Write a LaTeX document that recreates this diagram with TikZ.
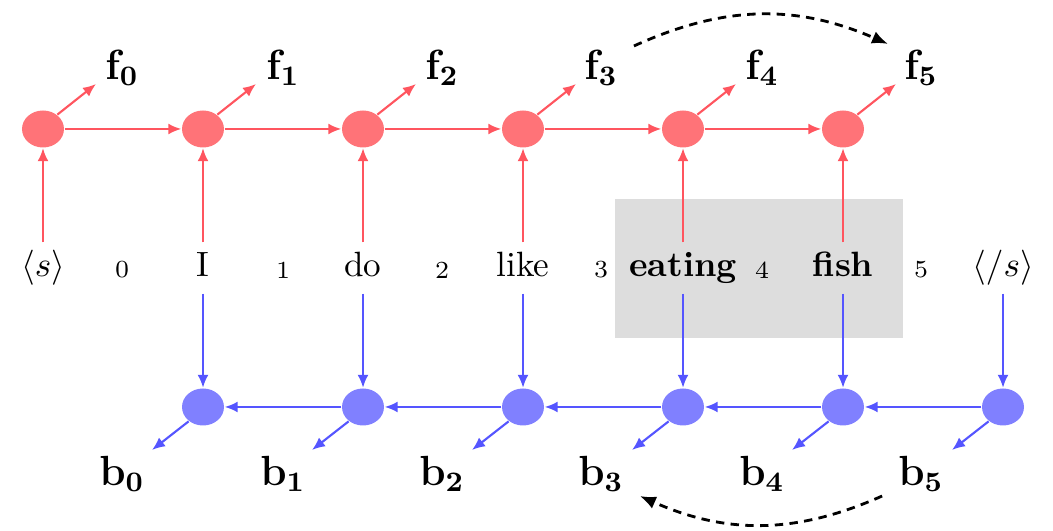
\documentclass[tikz,border=0pt]{standalone}
\usepackage{amsmath,amssymb,bm}
\usepackage{xcolor}
\usepackage{tikz}
\usetikzlibrary{arrows.meta,positioning,calc,shapes.geometric}
\definecolor{fwdline}{RGB}{255,85,95}
\definecolor{fwdfill}{RGB}{255,115,120}
\definecolor{bwdline}{RGB}{85,85,255}
\definecolor{bwdfill}{RGB}{128,128,255}
\definecolor{boxgray}{RGB}{221,221,221}
\tikzset{
	cell/.style={ellipse, inner sep=0pt, minimum width=4.2mm, minimum height=3.7mm},
	fcell/.style={cell, fill=fwdfill},
	bcell/.style={cell, fill=bwdfill},
	word/.style={inner sep=0pt, minimum height=5mm, text height=1.6ex, text depth=.5ex},
	gap/.style={font=\scriptsize, inner sep=1pt},
	state/.style={inner sep=1pt, font=\large},
	fwd/.style={draw=fwdline, line width=0.6pt, -{Latex[length=1.3mm,width=1.1mm]}},
	bwd/.style={draw=bwdline, line width=0.6pt, -{Latex[length=1.3mm,width=1.1mm]}},
	jump/.style={line width=0.8pt, dash pattern=on 2.4pt off 1.8pt, -{Latex[length=1.6mm,width=1.3mm]}},
}

\begin{document}
\begin{tikzpicture}[x=1cm, y=1cm]
				\useasboundingbox (0,0) rectangle (10.53,5.31);
				\fill[boxgray] (6.15,1.93) rectangle (9.03,3.32);
				% words and gaps
				\node[word] at (0.43,2.63) (w0) {$\langle s\rangle$};
				\node[word] at (2.03,2.63) (w1) {I};
				\node[word] at (3.63,2.63) (w2) {do};
				\node[word] at (5.23,2.63) (w3) {like};
				\node[word] at (6.83,2.63) (w4) {\textbf{eating}};
				\node[word] at (8.43,2.63) (w5) {\textbf{fish}};
				\node[word] at (10.03,2.63) (w6) {$\langle /s\rangle$};
				\node[gap] at (1.22,2.61) (g0) {0};
				\node[gap] at (2.83,2.61) (g1) {1};
				\node[gap] at (4.42,2.61) (g2) {2};
				\node[gap] at (6.01,2.61) (g3) {3};
				\node[gap] at (7.62,2.61) (g4) {4};
				\node[gap] at (9.21,2.61) (g5) {5};
				% forward cells
				\node[fcell] at (0.43,4.02) (fc0) {};
				\node[fcell] at (2.03,4.02) (fc1) {};
				\node[fcell] at (3.63,4.02) (fc2) {};
				\node[fcell] at (5.23,4.02) (fc3) {};
				\node[fcell] at (6.83,4.02) (fc4) {};
				\node[fcell] at (8.43,4.02) (fc5) {};
				% backward cells
				\node[bcell] at (2.03,1.24) (bc0) {};
				\node[bcell] at (3.63,1.24) (bc1) {};
				\node[bcell] at (5.23,1.24) (bc2) {};
				\node[bcell] at (6.83,1.24) (bc3) {};
				\node[bcell] at (8.43,1.24) (bc4) {};
				\node[bcell] at (10.03,1.24) (bc5) {};
				% states
				\node[state] at (1.22,4.63) (f0) {$\mathbf{f_0}$};
				\node[state] at (2.83,4.63) (f1) {$\mathbf{f_1}$};
				\node[state] at (4.42,4.63) (f2) {$\mathbf{f_2}$};
				\node[state] at (6.01,4.63) (f3) {$\mathbf{f_3}$};
				\node[state] at (7.62,4.63) (f4) {$\mathbf{f_4}$};
				\node[state] at (9.21,4.63) (f5) {$\mathbf{f_5}$};
				\node[state] at (1.22,0.57) (b0) {$\mathbf{b_0}$};
				\node[state] at (2.83,0.57) (b1) {$\mathbf{b_1}$};
				\node[state] at (4.42,0.57) (b2) {$\mathbf{b_2}$};
				\node[state] at (6.01,0.57) (b3) {$\mathbf{b_3}$};
				\node[state] at (7.62,0.57) (b4) {$\mathbf{b_4}$};
				\node[state] at (9.21,0.57) (b5) {$\mathbf{b_5}$};
				\coordinate (fo0) at (0.96,4.47);
				\coordinate (fo1) at (2.56,4.47);
				\coordinate (fo2) at (4.16,4.47);
				\coordinate (fo3) at (5.76,4.47);
				\coordinate (fo4) at (7.36,4.47);
				\coordinate (fo5) at (8.96,4.47);
				\coordinate (bo0) at (1.52,0.81);
				\coordinate (bo1) at (3.12,0.81);
				\coordinate (bo2) at (4.72,0.81);
				\coordinate (bo3) at (6.32,0.81);
				\coordinate (bo4) at (7.92,0.81);
				\coordinate (bo5) at (9.52,0.81);
				% forward chain
				\draw[fwd] (w0) -- (fc0);
				\draw[fwd] (w1) -- (fc1);
				\draw[fwd] (w2) -- (fc2);
				\draw[fwd] (w3) -- (fc3);
				\draw[fwd] (w4) -- (fc4);
				\draw[fwd] (w5) -- (fc5);
				\draw[fwd] (fc0) -- (fc1);
				\draw[fwd] (fc1) -- (fc2);
				\draw[fwd] (fc2) -- (fc3);
				\draw[fwd] (fc3) -- (fc4);
				\draw[fwd] (fc4) -- (fc5);
				\draw[fwd] (fc0.45) -- (fo0);
				\draw[fwd] (fc1.45) -- (fo1);
				\draw[fwd] (fc2.45) -- (fo2);
				\draw[fwd] (fc3.45) -- (fo3);
				\draw[fwd] (fc4.45) -- (fo4);
				\draw[fwd] (fc5.45) -- (fo5);
				% backward chain
				\draw[bwd] (w1) -- (bc0);
				\draw[bwd] (w2) -- (bc1);
				\draw[bwd] (w3) -- (bc2);
				\draw[bwd] (w4) -- (bc3);
				\draw[bwd] (w5) -- (bc4);
				\draw[bwd] (w6) -- (bc5);
				\draw[bwd] (bc5) -- (bc4);
				\draw[bwd] (bc4) -- (bc3);
				\draw[bwd] (bc3) -- (bc2);
				\draw[bwd] (bc2) -- (bc1);
				\draw[bwd] (bc1) -- (bc0);
				\draw[bwd] (bc0.225) -- (bo0);
				\draw[bwd] (bc1.225) -- (bo1);
				\draw[bwd] (bc2.225) -- (bo2);
				\draw[bwd] (bc3.225) -- (bo3);
				\draw[bwd] (bc4.225) -- (bo4);
				\draw[bwd] (bc5.225) -- (bo5);
				% span jumps
				\draw[jump] ([shift={(0.12,0.0)}]f3.north east) to[bend left=24] ([shift={(-0.12,0.02)}]f5.north west);
				\draw[jump] ([shift={(-0.12,0.0)}]b5.south west) to[bend left=24] ([shift={(0.12,0.0)}]b3.south east);
			\end{tikzpicture}
\end{document}
